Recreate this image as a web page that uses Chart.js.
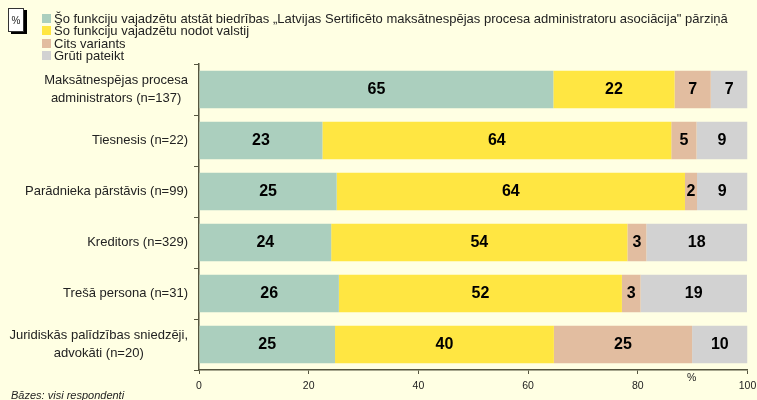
<!DOCTYPE html>
<html>
<head>
<meta charset="utf-8">
<script src="https://cdn.jsdelivr.net/npm/chart.js@4/dist/chart.umd.min.js"></script>
<style>
html, body { margin: 0; padding: 0; background: #ffffe3; overflow: hidden; }
#wrap { position: relative; width: 757px; height: 400px; font-family: "Liberation Sans", Arial, sans-serif; color: #222; }
#myChart { position: absolute; left: 0; top: 0; }
#pct { position: absolute; left: 8px; top: 8px; width: 16px; height: 24px; background: #fff; border: 1px solid #333; box-sizing: border-box; box-shadow: 3px 2px 0 #000; font-size: 10px; line-height: 24px; text-align: center; }
#legend div { position: absolute; left: 42px; height: 13px; line-height: 13px; font-size: 13px; white-space: nowrap; }
#legend i { display: inline-block; width: 9px; height: 9px; margin-right: 3px; }
#unit { position: absolute; left: 687px; top: 371px; font-size: 10.5px; }
#base { position: absolute; left: 11px; top: 389px; font-size: 11px; font-style: italic; }
</style>
</head>
<body>
<div id="wrap">
<canvas id="myChart" width="757" height="400"></canvas>
<div id="pct">%</div>
<div id="legend"></div>
<div id="unit">%</div>
<div id="base">Bāzes: visi respondenti</div>
</div>
<script>
var categories = [
    ['Maksātnespējas procesa', 'administrators (n=137)'],
    'Tiesnesis (n=22)',
    'Parādnieka pārstāvis (n=99)',
    'Kreditors (n=329)',
    'Trešā persona (n=31)',
    ['Juridiskās palīdzības sniedzēji,', 'advokāti (n=20)']
];
var seriesNames = [
    'Šo funkciju vajadzētu atstāt biedrības „Latvijas Sertificēto maksātnespējas procesa administratoru asociācija" pārziņā',
    'Šo funkciju vajadzētu nodot valstij',
    'Cits variants',
    'Grūti pateikt'
];
var atstat = [64.6, 22.5, 25.1, 24.1, 25.5, 24.8];
var valstij = [22.1, 63.6, 63.5, 54, 51.6, 39.9];
var cits = [6.6, 4.6, 2.2, 3.45, 3.4, 25.2];
var gruti = [6.7, 9.3, 9.2, 18.4, 19.4, 10.1];
var xTicks = [0, 20, 40, 60, 80, 100];
var colors = ['#abcfbe', '#ffe642', '#e2bda0', '#d2d2d2'];
var axisColor = '#55553f';

var barLabels = {
    id: 'barLabels',
    afterDatasetsDraw: function (chart) {
        var c = chart.ctx;
        c.save();
        c.font = 'bold 16px "Liberation Sans", Arial, sans-serif';
        c.fillStyle = '#000';
        c.textAlign = 'center';
        c.textBaseline = 'middle';
        chart.data.datasets.forEach(function (ds, i) {
            chart.getDatasetMeta(i).data.forEach(function (bar, j) {
                c.fillText(Math.round(ds.data[j]), (bar.x + bar.base) / 2, bar.y);
            });
        });
        c.restore();
    }
};

// two line labels are centred on each other, one line labels sit right against the axis
var catLabels = {
    id: 'catLabels',
    afterDraw: function (chart) {
        var c = chart.ctx;
        var right = chart.scales.y.right - 11;
        c.save();
        c.font = '13px "Liberation Sans", Arial, sans-serif';
        c.fillStyle = '#222';
        c.textAlign = 'center';
        c.textBaseline = 'middle';
        categories.forEach(function (label, i) {
            var lines = [].concat(label);
            var y = chart.scales.y.getPixelForTick(i);
            var w = Math.max.apply(null, lines.map(function (t) { return c.measureText(t).width; }));
            lines.forEach(function (t, k) {
                c.fillText(t, right - w / 2, y + (k - (lines.length - 1) / 2) * 18);
            });
        });
        c.restore();
    }
};

var ctx = document.getElementById('myChart').getContext('2d');
var myChart = new Chart(ctx, {
    type: 'bar',
    data: {
        labels: categories,
        datasets: [atstat, valstij, cits, gruti].map(function (vals, i) {
            return { label: seriesNames[i], data: vals, backgroundColor: colors[i], barPercentage: 0.74, categoryPercentage: 1 };
        })
    },
    options: {
        indexAxis: 'y',
        responsive: false,
        animation: false,
        layout: { padding: { top: 64, right: 9.5, left: 0, bottom: 0 } },
        plugins: { legend: { display: false }, tooltip: { enabled: false } },
        scales: {
            x: {
                stacked: true,
                min: 0,
                max: 100,
                afterFit: function (scale) {
                    scale.height = 30;
                    scale.paddingRight = 0;
                    scale.paddingLeft = 0;
                },
                afterBuildTicks: function (scale) { scale.ticks = xTicks.map(function (v) { return { value: v }; }); },
                border: { color: axisColor, width: 1.5 },
                grid: { drawOnChartArea: false, color: axisColor, tickLength: 4 },
                ticks: { color: '#222', padding: 6, maxRotation: 0, font: { family: '"Liberation Sans", Arial, sans-serif', size: 10.5 } }
            },
            y: {
                stacked: true,
                afterFit: function (scale) { scale.width = 199; },
                border: { color: axisColor, width: 1.5 },
                grid: { drawOnChartArea: false, color: axisColor, tickLength: 5 },
                ticks: { display: false }
            }
        }
    },
    plugins: [barLabels, catLabels]
});

var legendTops = [12, 24, 37, 49];
seriesNames.forEach(function (name, i) {
    var row = document.createElement('div');
    row.style.top = legendTops[i] + 'px';
    var box = document.createElement('i');
    box.style.background = colors[i];
    row.appendChild(box);
    row.appendChild(document.createTextNode(name));
    document.getElementById('legend').appendChild(row);
});
</script>
</body>
</html>
